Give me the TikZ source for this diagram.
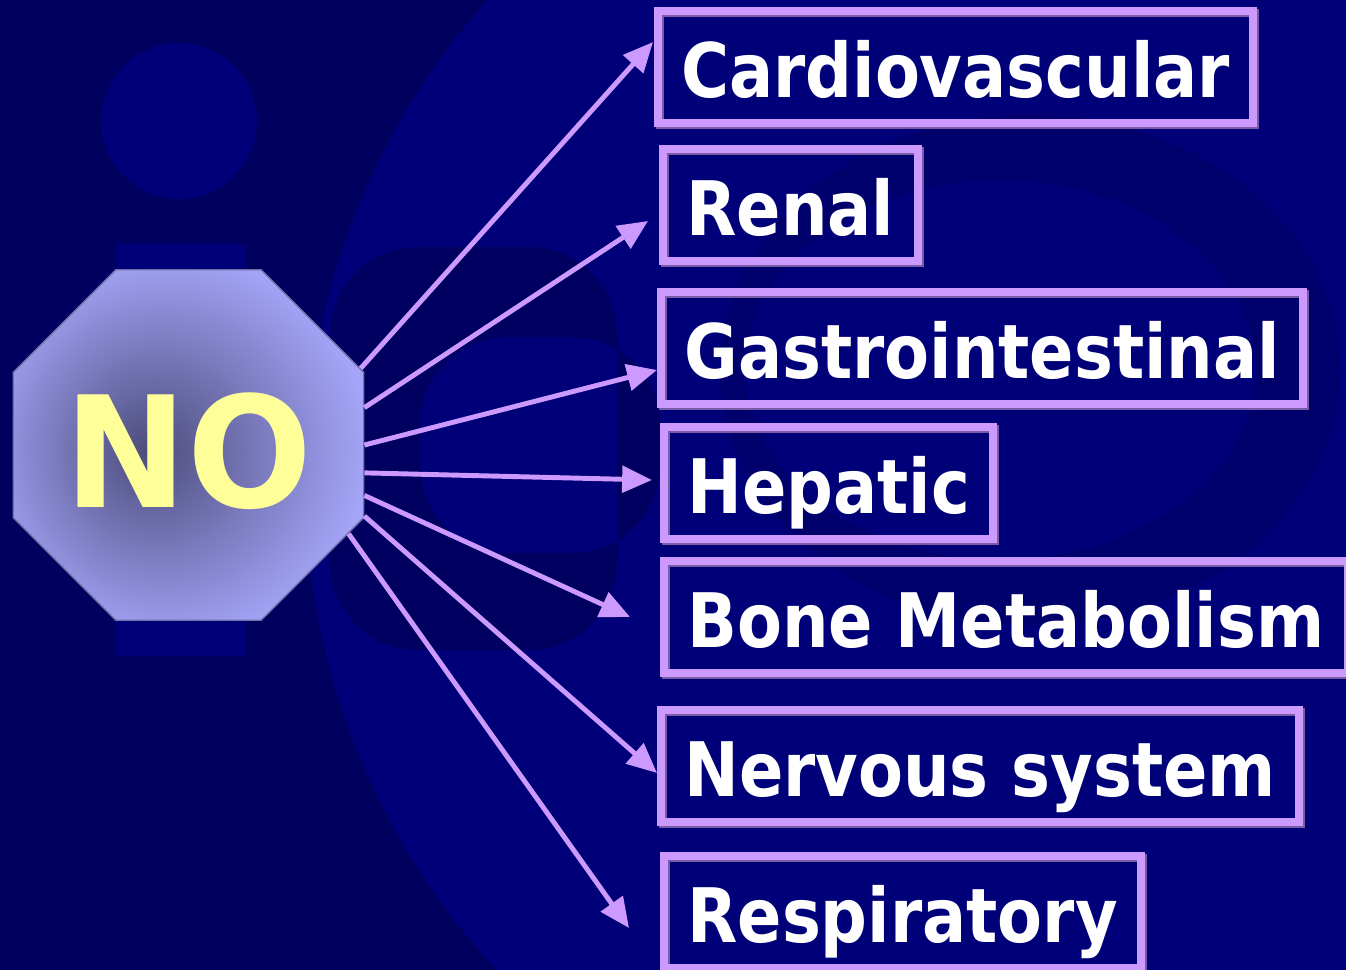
\documentclass[tikz,border=0pt]{standalone}
\usepackage{fontspec}
\usetikzlibrary{arrows.meta, shapes.geometric}
\newfontfamily\organfont[FakeStretch=0.87]{DejaVu Sans}
\newfontfamily\nofont[FakeStretch=0.95]{DejaVu Sans}
\definecolor{mNavy}{HTML}{00005F}
\definecolor{mNavyLight}{HTML}{000078}
\definecolor{mNavyDeep}{HTML}{000060}
\definecolor{mNavyRing}{HTML}{00006D}
\definecolor{mLilac}{HTML}{CC99FF}
\definecolor{mLilacDark}{HTML}{7A5CA6}
\definecolor{mOctRim}{HTML}{A4A4F8}
\definecolor{mOctCore}{HTML}{4C4C7C}
\definecolor{mOctEdge}{HTML}{7070A8}
\definecolor{mYellow}{HTML}{FFFF99}
\pgfdeclareradialshading{noglow}{\pgfpoint{-6bp}{-1bp}}{color(0bp)=(mOctCore); color(28bp)=(mOctRim); color(50bp)=(mOctRim)}

\begin{document}
\begin{tikzpicture}[x=0.02cm, y=-0.02cm,
    organ/.style={draw=mLilac, line width=4.5pt, anchor=west, text=white,
      font=\organfont\bfseries\fontsize{42.8pt}{48pt}\selectfont,
      minimum height=63.5pt, inner xsep=13.3pt, inner ysep=0pt,
      text height=35.2pt, text depth=0pt,
      preaction={draw=mLilacDark, line width=4.5pt, transform canvas={shift={(1.2pt,-1.2pt)}}}},
    link/.style={draw=mLilac, line width=2.8pt, -{Triangle[length=17pt, width=15pt]}}]
  \useasboundingbox (0,0) rectangle (1346,970);
  \clip (0,0) rectangle (1346,970);
  \fill[mNavy] (0,0) rectangle (1346,970);
  \fill[mNavyLight] (1000,480) ellipse [x radius=695, y radius=711];
  \fill[mNavyRing, even odd rule] (1030,370) ellipse [x radius=310, y radius=255]
    (1000,370) ellipse [x radius=255, y radius=190];
  \fill[mNavyLight] (179,121) circle [radius=78];
  \fill[mNavyLight] (116,244) rectangle (246,656);
  \fill[mNavyDeep, even odd rule, rounded corners=50pt] (617,247) -- (330,247) -- (330,650) -- (617,650) -- cycle
    (660,337) -- (420,337) -- (420,553) -- (660,553) -- cycle;
  \node[regular polygon, regular polygon sides=8, minimum size=214.3pt, inner sep=0pt,
    shade, shading=noglow, draw=mOctEdge, line width=0.8pt, text=mYellow,
    font=\nofont\bfseries\fontsize{88pt}{88pt}\selectfont, text height=71.4pt, text depth=0pt] (no) at (188.5,445) {NO};
  \foreach \lbl/\xl/\yc [count=\i] in {Cardiovascular/654/67, Renal/659/205, Gastrointestinal/657/348, Hepatic/660/483, Bone Metabolism/660/617, Nervous system/657/766, Respiratory/660/912}
    \node[organ] (organ\i) at (\xl,\yc) {\lbl};
  \foreach \ang/\ex/\ey [count=\i] in {24.7/653/42, 12.3/648/221, 0/657/370, -9.8/652/480, -16/630/617, -22.4/657/773, -29.3/629/928} {
    \coordinate (tip\i) at (\ex,\ey);
    \draw[link] (no.\ang) -- (tip\i);
  }
\end{tikzpicture}
\end{document}
